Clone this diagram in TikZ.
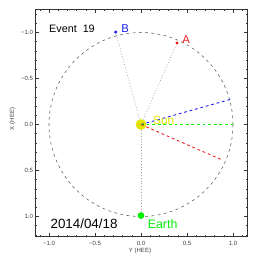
\documentclass[tikz,border=0pt]{standalone}
\usepackage{fontspec}
\setmainfont{Liberation Sans}
\usepackage{tikz}
\usetikzlibrary{calc}
\definecolor{SunYellow}{RGB}{228,228,0}
\definecolor{EarthGreen}{RGB}{0,238,0}
\definecolor{StaBlue}{RGB}{25,25,240}
\definecolor{StaRed}{RGB}{240,25,25}
\definecolor{OrbitGray}{RGB}{85,85,85}
\definecolor{LinkGray}{RGB}{165,165,165}

\tikzset{
    orbit/.style={OrbitGray, line width=0.5pt, dash pattern=on 2.6pt off 3.2pt},
    link/.style={LinkGray, line width=0.6pt, dash pattern=on 0.8pt off 1.8pt},
    beam/.style={line width=0.8pt, dash pattern=on 2.6pt off 2.6pt},
    craft/.style={circle, inner sep=0pt, minimum size=0.11cm},
    ticklbl/.style={text=black!75, inner sep=0pt, font=\fontsize{5.6}{6}\selectfont},
}

\begin{document}
\begin{tikzpicture}[x=3cm, y=-3cm]
    \useasboundingbox (-1.5326,-1.3533) rectangle (1.2717,1.4510);
    % frame and ticks
    \draw[black!80, line width=0.5pt] (-1.15,-1.25) rectangle (1.16,1.22);
    \foreach \i in {-11,...,11} {
        \pgfmathsetmacro\len{ifthenelse(mod(\i,5)==0,0.036,0.02)}
        \draw[black!80, line width=0.4pt] (\i/10,1.22) -- ++(0,-\len);
        \draw[black!80, line width=0.4pt] (\i/10,-1.25) -- ++(0,\len);
    }
    \foreach \i in {-12,...,12} {
        \pgfmathsetmacro\len{ifthenelse(mod(\i,5)==0,0.036,0.02)}
        \draw[black!80, line width=0.4pt] (-1.15,\i/10) -- ++(\len,0);
        \draw[black!80, line width=0.4pt] (1.16,\i/10) -- ++(-\len,0);
    }
    \foreach \v/\s in {-1/{−1.0},-0.5/{−0.5},0/{0.0},0.5/{0.5},1/{1.0}} {
        \node[ticklbl, anchor=base] at (\v,1.31) {\s};
        \node[ticklbl, anchor=east] at (-1.172,\v) {\s};
    }
    \node[ticklbl, anchor=base] (ytitle) at (-0.011,1.389) {Y (HEE)};
    \node[ticklbl, rotate=90] (xtitle) at (-1.397,-0.06) {X (HEE)};

    % orbit and spacecraft
    \draw[orbit] (0,0) circle (1);
    \node[craft, fill=StaBlue] (staB) at (-0.275,-1.005) {};
    \node[craft, fill=StaRed] (staA) at (0.391,-0.886) {};
    \node[circle, inner sep=0pt, minimum size=0.22cm, fill=EarthGreen] (earth) at (0,0.99) {};
    \coordinate (sunc) at (0,0);
    \draw[link] (sunc) -- (staB);
    \draw[link] (sunc) -- (staA);
    \draw[link] (sunc) -- (earth);
    \node[circle, inner sep=0pt, minimum size=0.35cm, fill=SunYellow] (sun) at (sunc) {};

    % directions
    \coordinate (tipB) at (0.986,-0.277);
    \coordinate (tipE) at (1.0,0);
    \coordinate (tipA) at (0.877,0.383);
    \draw[beam, StaBlue] (sun.center) -- (tipB);
    \draw[beam, EarthGreen] (sun.center) -- (tipE);
    \draw[beam, StaRed] (sun.center) -- (tipA);

    % labels
    \node[anchor=base west, inner sep=0pt, font=\fontsize{10}{12}\selectfont] (event) at (-1.0,-1.0) {Event~~19};
    \node[anchor=base west, inner sep=0pt, text=StaBlue, font=\fontsize{10.5}{12}\selectfont] (labB) at (-0.215,-1.0) {B};
    \node[anchor=base west, inner sep=0pt, text=StaRed, font=\fontsize{10.5}{12}\selectfont] (labA) at (0.448,-0.883) {A};
    \node[anchor=base west, inner sep=0pt, text=SunYellow, font=\fontsize{11}{13}\selectfont] (labSun) at (0.13,-0.003) {Sun};
    \node[anchor=base west, inner sep=0pt, text=EarthGreen, font=\fontsize{11.5}{13}\selectfont] (labEarth) at (0.072,1.125) {Earth};
    \node[anchor=base west, inner sep=0pt, font=\fontsize{12.4}{15}\selectfont] (date) at (-0.985,1.125) {2014/04/18};
\end{tikzpicture}
\end{document}
